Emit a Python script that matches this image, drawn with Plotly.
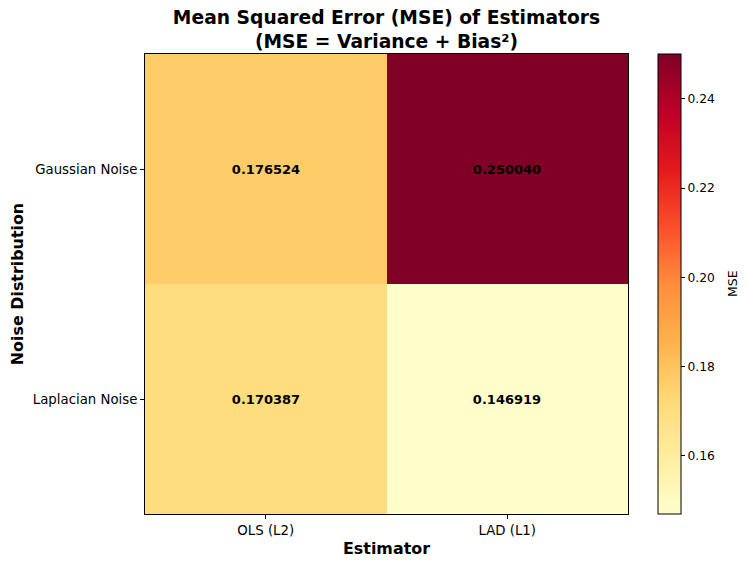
import plotly.graph_objects as go

estimators = ["OLS (L2)", "LAD (L1)"]
noise_types = ["Gaussian Noise", "Laplacian Noise"]
mse_values = [
    [0.176524, 0.250040],
    [0.170387, 0.146919],
]

ylorrd = [
    [0.0, "#ffffcc"], [0.125, "#ffeda0"], [0.25, "#fed976"], [0.375, "#feb24c"],
    [0.5, "#fd8d3c"], [0.625, "#fc4e2a"], [0.75, "#e31a1c"], [0.875, "#bd0026"],
    [1.0, "#800026"],
]

zmin = min(min(r) for r in mse_values)
zmax = max(max(r) for r in mse_values)

W, H = 740, 558
L, R, T, B = 137, 120, 46, 52
PW = W - L - R

fig = go.Figure(go.Heatmap(
    z=mse_values, x=estimators, y=noise_types,
    colorscale=ylorrd, zmin=zmin, zmax=zmax,
    texttemplate="<b>%{z:.6f}</b>",
    textfont=dict(family="DejaVu Sans", size=13, color="black"),
    colorbar=dict(
        x=(650 - L) / PW, xanchor="left", xpad=0, ypad=0,
        y=0, yanchor="bottom", len=1, lenmode="fraction",
        thickness=23, thicknessmode="pixels",
        outlinewidth=1, outlinecolor="black",
        ticks="outside", ticklen=4, tickcolor="black",
        tickvals=[0.16, 0.18, 0.20, 0.22, 0.24],
        ticktext=["0.16", "0.18", "0.20", "0.22", "0.24"],
        tickfont=dict(family="DejaVu Sans", size=12.3, color="black"),
    ),
    hoverongaps=False,
))

fig.add_annotation(
    text="MSE", xref="paper", yref="paper",
    x=(724 - L) / PW, y=0.5, xanchor="center", yanchor="middle",
    textangle=-90, showarrow=False,
    font=dict(family="DejaVu Sans", size=12.5, color="black"),
)

fig.update_layout(
    width=W, height=H,
    margin=dict(l=L, r=R, t=T, b=B, autoexpand=False),
    paper_bgcolor="white", plot_bgcolor="white",
    font=dict(family="DejaVu Sans", color="black"),
    title=dict(
        text="<b>Mean Squared Error (MSE) of Estimators<br>(MSE = Variance + Bias²)</b>",
        x=(L + (W - R)) / 2 / W, xanchor="center",
        yref="container", y=1 - 16 / H, yanchor="top",
        font=dict(family="DejaVu Sans", size=18.7, color="black"),
    ),
)
fig.update_xaxes(
    title=dict(text="<b>Estimator</b>", font=dict(size=15.9), standoff=5),
    ticks="outside", ticklen=4, tickcolor="black",
    tickfont=dict(size=13.3), showline=True, linecolor="black", mirror=True,
    showgrid=False, zeroline=False, automargin=False,
)
fig.update_yaxes(
    title=dict(text="<b>Noise Distribution</b>", font=dict(size=15.9), standoff=5),
    autorange="reversed",
    ticks="outside", ticklen=4, tickcolor="black",
    tickfont=dict(size=13.3), showline=True, linecolor="black", mirror=True,
    showgrid=False, zeroline=False, automargin=False,
)

fig.write_html("out.html")
